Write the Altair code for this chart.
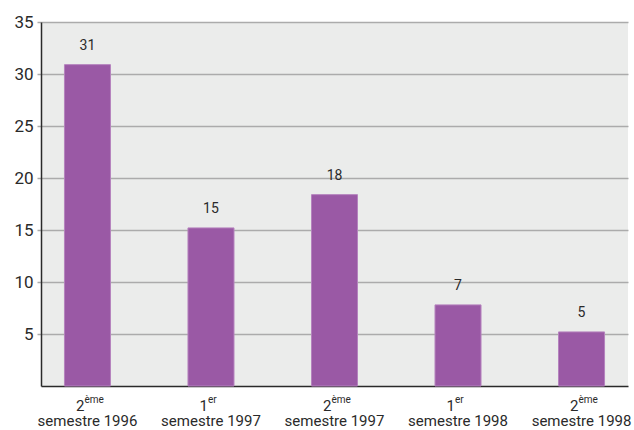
import altair as alt
import pandas as pd

# Data
periods = ["semestre 1996", "semestre 1997", "semestre 1997 ", "semestre 1998", "semestre 1998 "]
line2 = ["semestre 1996", "semestre 1997", "semestre 1997", "semestre 1998", "semestre 1998"]
ordinals = ["2", "1", "2", "1", "2"]
sups = ["ème", "er", "ème", "er", "ème"]
values = [30.9, 15.2, 18.4, 7.8, 5.2]
value_labels = ["31", "15", "18", "7", "5"]
y_ticks = [5, 10, 15, 20, 25, 30, 35]

df = pd.DataFrame({
    "period": periods,
    "line2": line2,
    "ord": ordinals,
    "sup": sups,
    "value": values,
    "label": value_labels,
})

W, H = 587, 364
FONT = "Roboto"
TXT = "#2a2a2a"

xscale = alt.Scale(domain=periods, paddingInner=0.6275, paddingOuter=0.19)
x = alt.X("period:N", scale=xscale, sort=periods,
          axis=alt.Axis(title=None, labels=False, ticks=False, domain=True,
                        domainColor="#2a2a2a", domainWidth=1.5, grid=False))
y = alt.Y("value:Q", scale=alt.Scale(domain=[0, 35], nice=False),
          axis=alt.Axis(title=None, values=y_ticks, grid=True, gridColor="#ABABAB",
                        gridWidth=1.5, tickSize=4, tickColor="#ABABAB", tickWidth=1.5,
                        domainColor="#2a2a2a", domainWidth=1.5,
                        labelFont=FONT, labelFontSize=17, labelColor=TXT,
                        labelPadding=4))

base = alt.Chart(df)

bars = base.mark_bar(color="#9A59A5", stroke="#B583BE", strokeWidth=1).encode(x=x, y=y)

vlabels = base.mark_text(font=FONT, fontSize=14, color=TXT, baseline="bottom", dy=-12).encode(
    x=alt.X("period:N", scale=xscale, sort=periods),
    y="value:Q",
    text="label:N",
)

ord_text = base.mark_text(font=FONT, fontSize=15, color=TXT, align="right",
                          baseline="alphabetic", dx=-3).encode(
    x=alt.X("period:N", scale=xscale, sort=periods),
    y=alt.value(389),
    text="ord:N",
)

sup_text = base.mark_text(font=FONT, fontSize=10, color=TXT, align="left",
                          baseline="alphabetic", dx=-3).encode(
    x=alt.X("period:N", scale=xscale, sort=periods),
    y=alt.value(381),
    text="sup:N",
)

line2_text = base.mark_text(font=FONT, fontSize=15, color=TXT, align="center",
                            baseline="alphabetic").encode(
    x=alt.X("period:N", scale=xscale, sort=periods),
    y=alt.value(404),
    text="line2:N",
)

chart = alt.layer(bars, vlabels, ord_text, sup_text, line2_text).properties(
    width=W, height=H,
    autosize=alt.AutoSizeParams(type="none"),
    padding={"left": 41, "top": 22, "right": 6, "bottom": 44},
    background="white",
).configure_view(stroke=None, fill="#EBECEB")

chart.save("out.html", embed_options={"renderer": "svg", "actions": False})
